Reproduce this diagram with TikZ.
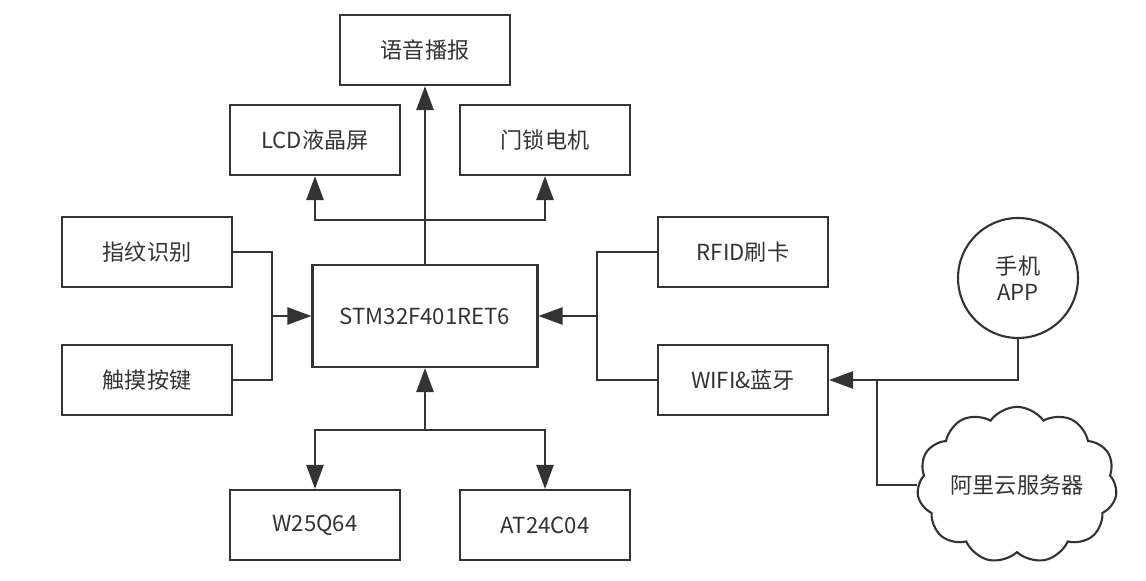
\documentclass[tikz,border=0pt]{standalone}
\usepackage{fontspec}
\setmainfont{Noto Sans CJK SC}
\usepackage{tikz}
\usetikzlibrary{arrows.meta, positioning, shapes.symbols}
\definecolor{tinta}{RGB}{51,51,51}
\tikzset{>={Triangle[length=0.48cm, width=0.34cm]}}
\tikzset{
	caja/.style={draw=tinta, line width=1.2pt, minimum width=3.4cm, minimum height=1.4cm, text=tinta, font=\fontsize{12.6}{15}\selectfont},
	linea/.style={draw=tinta, line width=1.5pt},
	flecha/.style={linea, ->}
}

\begin{document}
\begin{tikzpicture}[x=0.02cm, y=-0.02cm]
			\useasboundingbox (0,0) rectangle (1146,581);

			% bloques
			\node [caja] (voz) at (425,50) {语音播报};
			\node [caja] (lcd) at (315,140) {LCD液晶屏};
			\node [caja] (motor) at (545,140) {门锁电机};
			\node [caja] (huella) at (147,252) {指纹识别};
			\node [caja] (tecla) at (147,380) {触摸按键};
			\node [caja, minimum width=4.5cm, minimum height=2.04cm] (mcu) at (425,316) {STM32F401RET6};
			\node [caja] (rfid) at (743,252) {RFID刷卡};
			\node [caja] (wifi) at (743,380) {WIFI\&蓝牙};
			\node [caja] (flash) at (315,525) {W25Q64};
			\node [caja] (eeprom) at (545,525) {AT24C04};

			\node [caja, circle, minimum size=2.4cm, align=center] (movil) at (1018,278) {手机\\APP};
			\node [caja, cloud, cloud puffs=11, cloud puff arc=110, aspect=1.4, minimum width=3.7cm, minimum height=2.8cm, inner sep=0pt] (nube) at (1017,485) {阿里云服务器};

			% puntos de union
			\coordinate (arriba) at (425,220);
			\coordinate (izq) at (272,316);
			\coordinate (der) at (597,316);
			\coordinate (abajo) at (425,430);
			\coordinate (enlace) at (877,380);

			% salidas
			\draw [flecha] (mcu.north) -- (voz.south);
			\draw [flecha] (arriba) -| (lcd.south);
			\draw [flecha] (arriba) -| (motor.south);

			% entradas
			\draw [linea] (huella.east) -| (izq) |- (tecla.east);
			\draw [flecha] (izq) -- (mcu.west);
			\draw [linea] (rfid.west) -| (der) |- (wifi.west);
			\draw [flecha] (der) -- (mcu.east);

			% memorias
			\draw [flecha] (abajo) -- (mcu.south);
			\draw [flecha] (abajo) -| (flash.north);
			\draw [flecha] (abajo) -| (eeprom.north);

			% red
			\draw [flecha] (movil.south) |- (wifi.east);
			\draw [linea] (nube.west) -| (enlace);
	\end{tikzpicture}
\end{document}
